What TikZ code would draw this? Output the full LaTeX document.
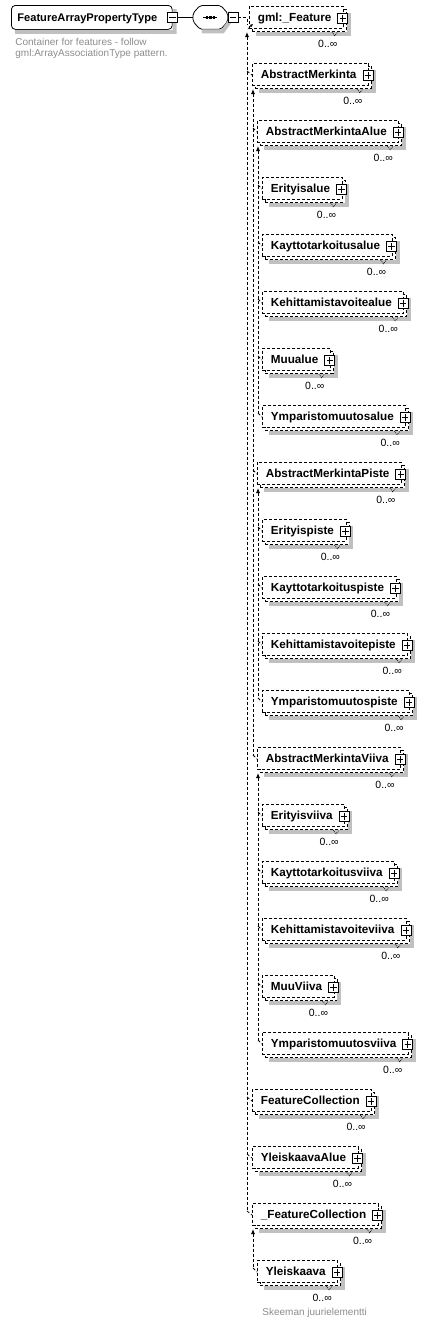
\documentclass[tikz,border=0pt]{standalone}
\usepackage{fontspec}
\setmainfont{Liberation Sans}
\usetikzlibrary{arrows.meta}
\usetikzlibrary{positioning,calc}
\definecolor{shadowgray}{RGB}{192,192,192}
\newcommand{\seqoutline}{($(seq.west)+(0,4)$) -- ($(seq.north west)+(7,0)$) -- ($(seq.north east)+(-7,0)$) -- ($(seq.east)+(0,4)$)
	-- ($(seq.east)+(0,-4)$) -- ($(seq.south east)+(-7,0)$) -- ($(seq.south west)+(7,0)$) -- ($(seq.west)+(0,-4)$) -- cycle}

\begin{document}
\begin{tikzpicture}[x=1pt,y=1pt,line width=0.8pt,
	dsh/.style={dash pattern=on 3pt off 2pt},
	conn/.style={dsh},
	subst/.style={dsh,{Latex[length=5pt,width=4pt]}-},
	band/.style={draw=shadowgray,line width=4pt,line cap=butt,line join=miter},
	elembase/.style={anchor=north west,minimum height=22pt,inner ysep=0pt,inner xsep=8.5pt,
		text height=8.4pt,text depth=0pt,font=\bfseries\fontsize{11.7}{14}\selectfont,execute at end node={\hspace{3.5pt}}},
	elemback/.style={elembase,draw,dsh,fill=white},
	elem/.style={elembase,draw,dsh,fill=white},
	rootbox/.style={draw,fill=white,rounded corners=4pt,anchor=north west,minimum height=24pt,inner ysep=0pt,inner xsep=6pt,
		text height=8pt,text depth=0pt,font=\bfseries\fontsize{11.1}{13}\selectfont,execute at end node={\hspace{9pt}}},
	seqbox/.style={minimum width=34pt,minimum height=23pt,inner sep=0pt},
	pbox/.style={draw,solid,fill=white,minimum size=10pt,inner sep=0pt,line width=0.7pt,
		path picture={\draw[line width=0.7pt] ([xshift=1.8pt]path picture bounding box.west) -- ([xshift=-1.8pt]path picture bounding box.east)
			([yshift=-1.8pt]path picture bounding box.north) -- ([yshift=1.8pt]path picture bounding box.south);}},
	mbox/.style={draw,solid,fill=white,minimum size=10pt,inner sep=0pt,line width=0.7pt,
		path picture={\draw[line width=0.7pt] ([xshift=1.8pt]path picture bounding box.west) -- ([xshift=-1.8pt]path picture bounding box.east);}},
	mult/.style={font=\fontsize{10.5}{12}\selectfont,anchor=east,inner sep=0pt},
	note/.style={text=black!45,font=\fontsize{10}{11}\selectfont,align=left,anchor=north west,inner sep=0pt}
	]
	\useasboundingbox (0,0) rectangle (428,-1323);

	\node[rootbox] (root) at (11,-5) {FeatureArrayPropertyType};
	\fill[shadowgray] ($(root.north east)+(0,-4)$) -- ($(root.north east)+(4,-4)$) -- ($(root.south east)+(4,-4)$)
		-- ($(root.south west)+(4,-4)$) -- ($(root.south west)+(4,0)$) -- (root.south east) -- cycle;
	\node[mbox] (root-m) at (root.east) {};
	\node[seqbox,right=15pt of root-m] (seq) {};
	\draw[fill=white,rounded corners=2pt] \seqoutline;
	\draw[band] ($(seq.north east)+(2,-6)$) -- ($(seq.east)+(2,-4)$) -- ($(seq.south east)+(-5,-2)$) -- ($(seq.south west)+(9,-2)$);
	\node[mbox,right=0pt of seq] (seq-m) {};
	\draw (root-m) -- (seq.west);
	\draw ([xshift=-7pt]seq.center) -- ([xshift=7pt]seq.center);
	\foreach \d in {-3.5,0,3.5} \fill ([xshift=\d pt]seq.center) +(-1.3,-1.3) rectangle +(1.3,1.3);
	\node[note] (root-doc) at ($(root.south west)+(4,-8)$) {Container for features - follow\\gml:ArrayAssociationType pattern.};

	\foreach \n/\l/\t [count=\i from 0] in {feat/0/gml:\_Feature,%
		merk/1/AbstractMerkinta,%
		malue/2/AbstractMerkintaAlue,%
		erialue/3/Erityisalue,%
		kayalue/3/Kayttotarkoitusalue,%
		kehalue/3/Kehittamistavoitealue,%
		muualue/3/Muualue,%
		ympalue/3/Ymparistomuutosalue,%
		mpiste/2/AbstractMerkintaPiste,%
		eripiste/3/Erityispiste,%
		kaypiste/3/Kayttotarkoituspiste,%
		kehpiste/3/Kehittamistavoitepiste,%
		ympiste/3/Ymparistomuutospiste,%
		mviiva/2/AbstractMerkintaViiva,%
		eriviiva/3/Erityisviiva,%
		kayviiva/3/Kayttotarkoitusviiva,%
		kehviiva/3/Kehittamistavoiteviiva,%
		muuviiva/3/MuuViiva,%
		ympviiva/3/Ymparistomuutosviiva,%
		fcoll/1/FeatureCollection,%
		ykalue/1/YleiskaavaAlue,%
		ufcoll/1/\_FeatureCollection,%
		ykaava/2/Yleiskaava}
	{
		\pgfmathsetmacro\lx{{249,252,257,262}[\l]}
		\pgfmathsetmacro\ty{-6-57*\i}
		\node[elemback] (\n-b) at (\lx+3,\ty-3) {\phantom{\t}};
		\node[elem] (\n) at (\lx,\ty) {\t};
		\draw[band] ($(\n-b.north east)+(2,-4)$) -- ($(\n-b.south east)+(2,-2)$) -- ($(\n-b.south west)+(4,-2)$);
		\node[pbox] (\n-p) at ([xshift=-4pt,yshift=2pt]\n-b.east) {};
		\draw[line width=0.6pt,dash pattern=on 1pt off 1pt] ([xshift=-15pt]\n-b.south east) -- ++(3,-4) -- ++(3,4);
		\node[mult] (\n-m) at ([xshift=-6pt,yshift=-15pt]\n.south east) {0..∞};
	}

	% substitution groups
	\foreach \h/\dx/\last/\cs in {feat/-2/ufcoll/{merk,fcoll,ykalue,ufcoll},%
		merk/1/mviiva/{malue,mpiste,mviiva},%
		malue/1/ympalue/{erialue,kayalue,kehalue,muualue,ympalue},%
		mpiste/1/ympiste/{eripiste,kaypiste,kehpiste,ympiste},%
		mviiva/1/ympviiva/{eriviiva,kayviiva,kehviiva,muuviiva,ympviiva},%
		ufcoll/1/ykaava/{ykaava}}
	{
		\coordinate (\h-v) at ([xshift=\dx pt,yshift=-26pt]\h.north west);
		\draw[subst] (\h-v) -- ($(\last.north west -| \h-v)+(0,-8)$);
		\foreach \c in \cs \draw[conn] ($(\c.north west -| \h-v)+(0,-8)$) -- ($(\c.north west)+(0,-12)$);
	}

	\draw[conn] (seq-m.east) -- (seq-m.east -| feat-v) -- ++(0,-7);
	\draw[-{Latex[length=3pt,width=3pt]},line width=0.6pt] ($(feat.south west)+(-1,0)$) -- ++(5,5);
	\node[note] (ykaava-doc) at ($(ykaava.south west)+(5,-25)$) {Skeeman juurielementti};
\end{tikzpicture}
\end{document}
